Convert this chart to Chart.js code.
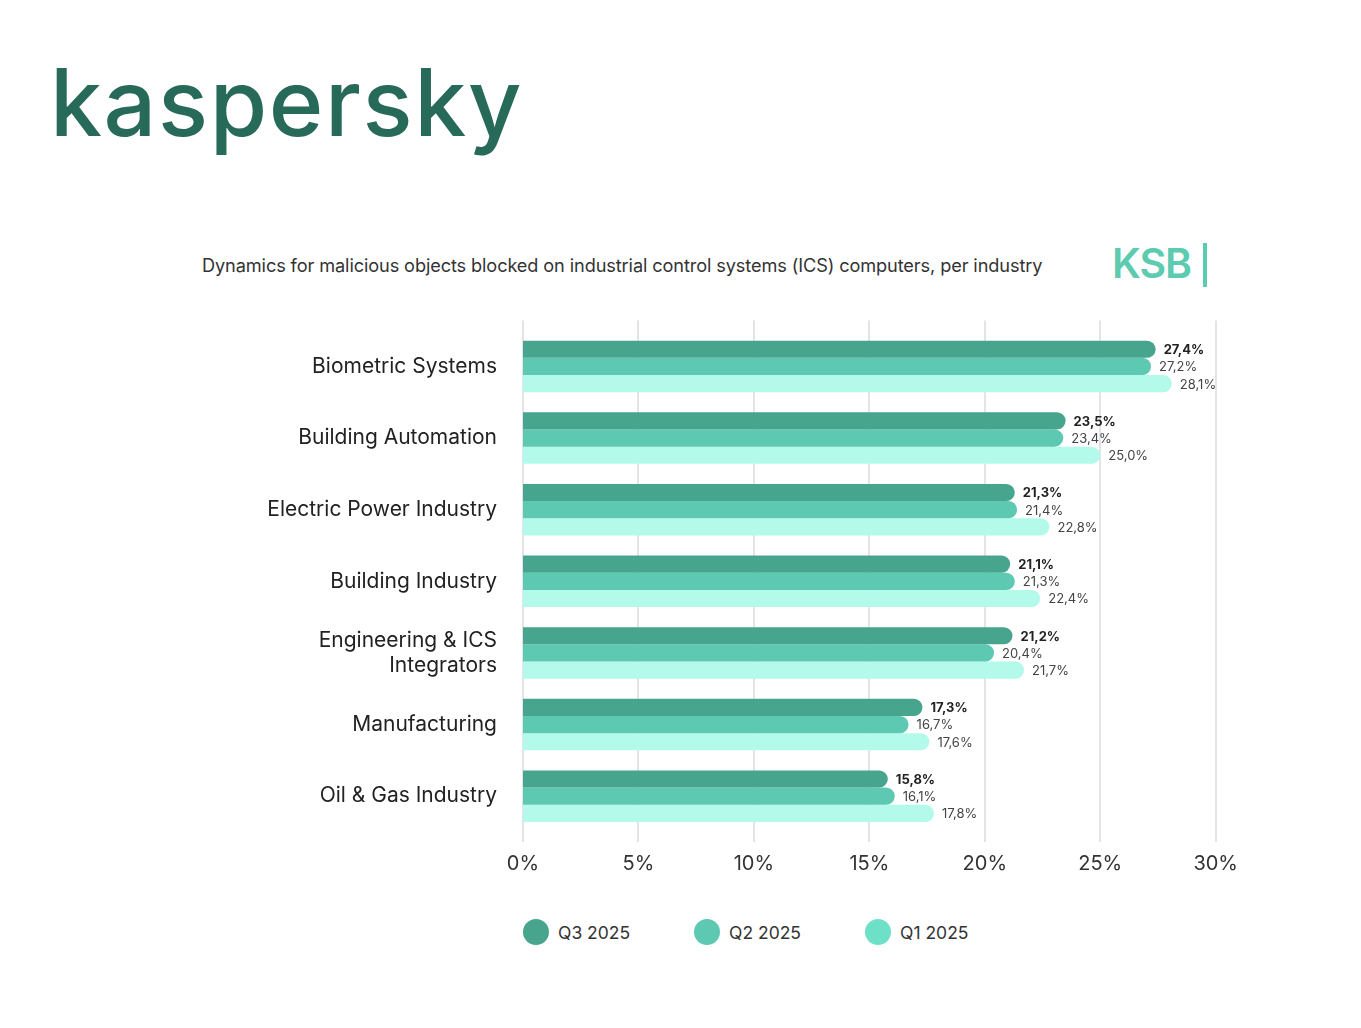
<!DOCTYPE html>
<html>
<head>
<meta charset="utf-8">
<script src="https://cdn.jsdelivr.net/npm/chart.js@4.4.1/dist/chart.umd.min.js"></script>
<style>
  html, body { margin: 0; padding: 0; background: #fff; }
  body { width: 1361px; height: 1028px; position: relative; overflow: hidden; font-family: "Inter", "Lato", sans-serif; }
  #logo { position: absolute; left: 50px; top: 56px; font-size: 93px; font-weight: 500; color: #286a5a; letter-spacing: 1.6px; line-height: 1; }
  #title { position: absolute; left: 202px; top: 254px; font-size: 18.15px; color: #333; letter-spacing: -0.1px; }
  #ksb { position: absolute; left: 1112px; top: 243px; font-size: 41px; font-weight: 600; color: #5ccbb0; letter-spacing: -1px; line-height: 1; }
  #ksbbar { position: absolute; left: 1203px; top: 243px; width: 4px; height: 44px; background: #5ccbb0; }
  #wrap { position: absolute; left: 240px; top: 292px; width: 1018px; height: 604px; }
  #legend { position: absolute; left: 523px; top: 919px; display: flex; }
  .item { width: 171px; display: flex; align-items: center; font-size: 17.5px; color: #333; }
  .dot { width: 26px; height: 26px; border-radius: 50%; margin-right: 9px; }
</style>
</head>
<body>
<div id="logo">kaspersky</div>
<div id="title">Dynamics for malicious objects blocked on industrial control systems (ICS) computers, per industry</div>
<div id="ksb">KSB</div>
<div id="ksbbar"></div>
<div id="wrap"><canvas id="chart"></canvas></div>
<div id="legend"></div>

<script>
/*************************************************
 * DATA
 *************************************************/
const industries = [
  "Biometric Systems",
  "Building Automation",
  "Electric Power Industry",
  "Building Industry",
  ["Engineering & ICS", "Integrators"],
  "Manufacturing",
  "Oil & Gas Industry"
];
const q3Values = [27.4, 23.5, 21.3, 21.1, 21.2, 17.3, 15.8];
const q2Values = [27.2, 23.4, 21.4, 21.3, 20.4, 16.7, 16.1];
const q1Values = [28.1, 25.0, 22.8, 22.4, 21.7, 17.6, 17.8];
const seriesNames = ["Q3 2025", "Q2 2025", "Q1 2025"];
const xTicks = [0, 5, 10, 15, 20, 25, 30];

/*************************************************
 * STYLE
 *************************************************/
const barColors = ["#47a48d", "#5ec9b2", "#b3faeb"];
const legendColors = ["#47a48d", "#5ec9b2", "#6ee0c8"];
const FONT = "Inter";

/*************************************************
 * PLUGINS
 *************************************************/
const gridPlugin = {
  id: "extGrid",
  beforeDatasetsDraw(chart) {
    const { ctx, chartArea, scales } = chart;
    ctx.save();
    ctx.strokeStyle = "#e4e4e4";
    ctx.lineWidth = 2;
    xTicks.forEach(v => {
      const x = Math.round(scales.x.getPixelForValue(v));
      ctx.beginPath();
      ctx.moveTo(x, chartArea.top - 10);
      ctx.lineTo(x, chartArea.bottom + 10);
      ctx.stroke();
    });
    ctx.restore();
  }
};

const valueLabels = {
  id: "valueLabels",
  afterDatasetsDraw(chart) {
    const { ctx } = chart;
    ctx.save();
    ctx.textBaseline = "middle";
    ctx.textAlign = "left";
    chart.data.datasets.forEach((ds, i) => {
      const meta = chart.getDatasetMeta(i);
      ctx.font = (i === 0 ? "700 " : "400 ") + "13px " + FONT;
      ctx.fillStyle = i === 0 ? "#222" : "#444";
      meta.data.forEach((el, j) => {
        const txt = ds.data[j].toFixed(1).replace(".", ",") + "%";
        ctx.fillText(txt, el.x + 8, el.y + 1);
      });
    });
    ctx.restore();
  }
};

/*************************************************
 * LEGEND
 *************************************************/
function renderLegend() {
  const box = document.getElementById("legend");
  seriesNames.forEach((name, i) => {
    const item = document.createElement("div");
    item.className = "item";
    item.innerHTML = `<span class="dot" style="background:${legendColors[i]}"></span>${name}`;
    box.appendChild(item);
  });
}

/*************************************************
 * CHART
 *************************************************/
function renderChart() {
  const el = document.getElementById("chart");
  const values = [q3Values, q2Values, q1Values];

  new Chart(el, {
    type: "bar",
    data: {
      labels: industries,
      datasets: seriesNames.map((name, i) => ({
        label: name,
        data: values[i],
        backgroundColor: barColors[i],
        borderRadius: 9,
        borderSkipped: "start",
        categoryPercentage: 0.72,
        barPercentage: 1.0
      }))
    },
    options: {
      indexAxis: "y",
      responsive: true,
      maintainAspectRatio: false,
      animation: false,
      layout: { padding: { top: 14, right: 0, bottom: 0, left: 0 } },
      scales: {
        x: {
          min: 0,
          max: 30,
          afterBuildTicks: s => { s.ticks = xTicks.map(v => ({ value: v })); },
          grid: { display: false, drawTicks: false },
          border: { display: false },
          ticks: {
            padding: 20,
            color: "#333",
            font: { family: FONT, size: 20 },
            callback: v => v + "%"
          }
        },
        y: {
          afterFit: s => { s.width = 283; },
          grid: { display: false, drawTicks: false },
          border: { display: false },
          ticks: {
            padding: 26,
            color: "#222",
            font: { family: FONT, size: 21 }
          }
        }
      },
      plugins: {
        tooltip: { enabled: false },
        legend: { display: false }
      }
    },
    plugins: [gridPlugin, valueLabels]
  });
}

document.addEventListener("DOMContentLoaded", () => {
  renderLegend();
  renderChart();
});
</script>
</body>
</html>
